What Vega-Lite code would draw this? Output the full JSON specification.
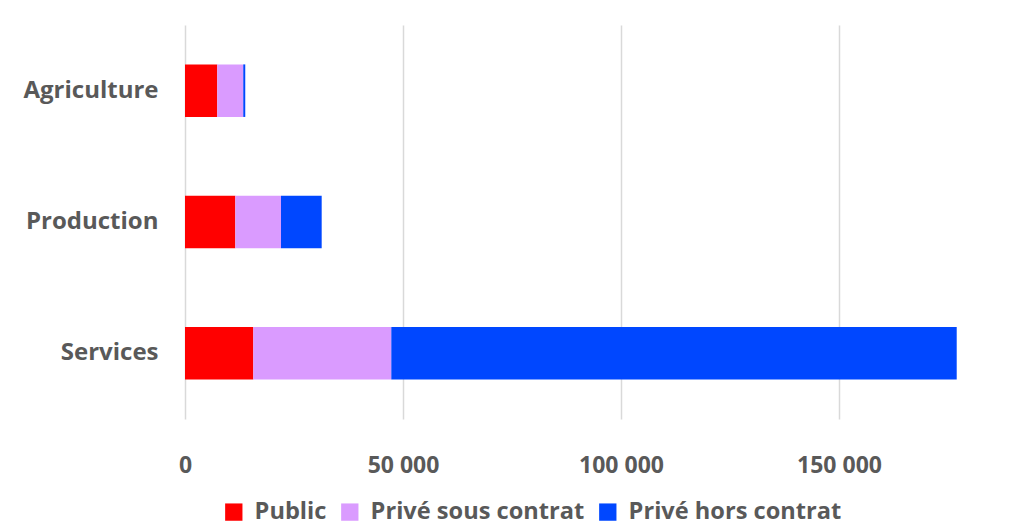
{
  "$schema": "https://vega.github.io/schema/vega-lite/v6.json",
  "autosize": {"type": "none"},
  "padding": {"left": 185, "top": 25, "right": 0, "bottom": 112},
  "width": 843,
  "height": 394,
  "background": "#ffffff",
  "data": {
    "values": [
      {"secteur": "Agriculture", "statut": "Public", "rang": 1, "effectif": 7400},
      {"secteur": "Agriculture", "statut": "Privé sous contrat", "rang": 2, "effectif": 5960},
      {"secteur": "Agriculture", "statut": "Privé hors contrat", "rang": 3, "effectif": 460},
      {"secteur": "Production", "statut": "Public", "rang": 1, "effectif": 11540},
      {"secteur": "Production", "statut": "Privé sous contrat", "rang": 2, "effectif": 10480},
      {"secteur": "Production", "statut": "Privé hors contrat", "rang": 3, "effectif": 9330},
      {"secteur": "Services", "statut": "Public", "rang": 1, "effectif": 15670},
      {"secteur": "Services", "statut": "Privé sous contrat", "rang": 2, "effectif": 31650},
      {"secteur": "Services", "statut": "Privé hors contrat", "rang": 3, "effectif": 129680}
    ]
  },
  "mark": {"type": "bar", "stroke": null},
  "encoding": {
    "y": {
      "field": "secteur",
      "type": "nominal",
      "title": null,
      "sort": ["Agriculture", "Production", "Services"],
      "scale": {"paddingInner": 0.6, "paddingOuter": 0.3},
      "axis": {
        "domain": false,
        "ticks": false,
        "grid": false,
        "labelPadding": 27,
        "labelFont": "Open Sans",
        "labelFontWeight": 700,
        "labelFontSize": 24,
        "labelColor": "#595959",
        "labelLimit": 0
      }
    },
    "x": {
      "field": "effectif",
      "type": "quantitative",
      "stack": "zero",
      "title": null,
      "scale": {"domain": [0, 193349], "nice": false, "zero": true},
      "axis": {
        "values": [0, 50000, 100000, 150000],
        "domain": false,
        "ticks": false,
        "grid": true,
        "gridColor": "#d9d9d9",
        "gridWidth": 1.5,
        "labelFlush": false,
        "labelPadding": 35,
        "labelFont": "Open Sans",
        "labelFontWeight": 700,
        "labelFontSize": 23,
        "labelColor": "#595959",
        "labelExpr": "replace(format(datum.value, ','), ',', ' ')"
      }
    },
    "color": {
      "field": "statut",
      "type": "nominal",
      "scale": {
        "domain": ["Public", "Privé sous contrat", "Privé hors contrat"],
        "range": ["#ff0000", "#da9bff", "#0047ff"]
      },
      "legend": {
        "title": null,
        "orient": "none",
        "direction": "horizontal",
        "legendX": 37,
        "legendY": 475,
        "symbolType": "square",
        "symbolSize": 300,
        "symbolStrokeWidth": 0,
        "labelFont": "Open Sans",
        "labelFontWeight": 700,
        "labelFontSize": 23.6,
        "labelColor": "#595959",
        "labelLimit": 0,
        "labelOffset": 9,
        "columnPadding": 11
      }
    },
    "order": {"field": "rang", "type": "quantitative"}
  },
  "config": {"view": {"stroke": null}}
}
